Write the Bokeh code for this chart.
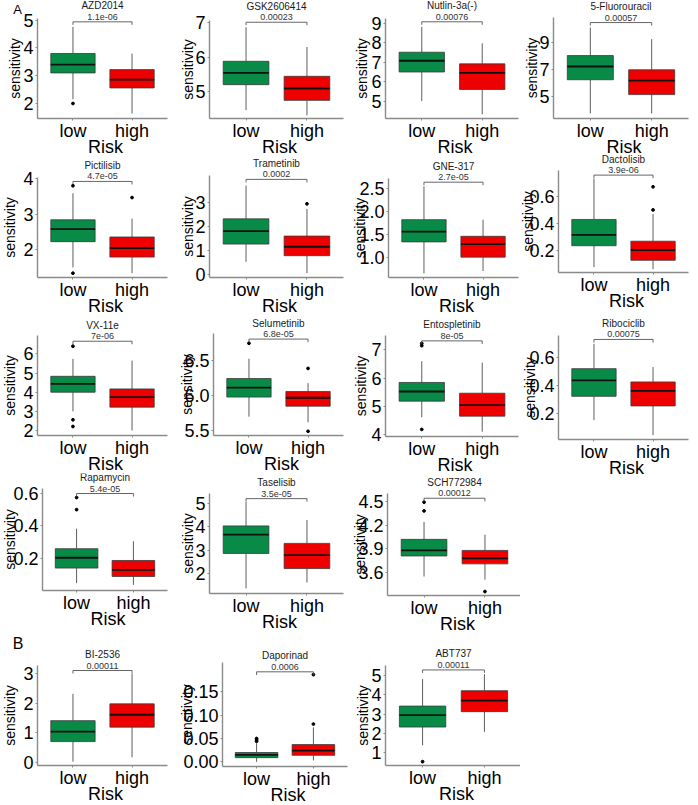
import math

from bokeh.layouts import row, column
from bokeh.models import Range1d, FixedTicker, Label
from bokeh.plotting import figure
from bokeh.embed import file_html
from bokeh.resources import INLINE

# ---------------- data ----------------
drugs = ["AZD2014", "GSK2606414", "Nutlin-3a(-)", "5-Fluorouracil",
         "Pictilisib", "Trametinib", "GNE-317", "Dactolisib",
         "VX-11e", "Selumetinib", "Entospletinib", "Ribociclib",
         "Rapamycin", "Taselisib", "SCH772984",
         "BI-2536", "Daporinad", "ABT737"]
p_values = ["1.1e-06", "0.00023", "0.00076", "0.00057",
            "4.7e-05", "0.0002", "2.7e-05", "3.9e-06",
            "7e-06", "6.8e-05", "8e-05", "0.00075",
            "5.4e-05", "3.5e-05", "0.00012",
            "0.00011", "0.0006", "0.00011"]
risk_groups = ["low", "high"]

# box statistics: (lower whisker, Q1, median, Q3, upper whisker)
low_box = [(2.15, 3.10, 3.40, 3.80, 4.76), (4.48, 5.21, 5.55, 5.88, 6.86),
           (5.00, 6.50, 7.08, 7.52, 8.83), (3.79, 6.26, 7.23, 8.03, 10.09),
           (1.51, 2.23, 2.58, 2.84, 3.58), (0.54, 1.27, 1.80, 2.31, 3.69),
           (0.66, 1.34, 1.56, 1.82, 2.54), (0.08, 0.237, 0.316, 0.43, 0.73),
           (3.00, 4.00, 4.43, 4.83, 5.74), (5.70, 5.98, 6.115, 6.245, 6.53),
           (4.62, 5.19, 5.53, 5.85, 6.60), (0.153, 0.322, 0.435, 0.518, 0.694),
           (0.045, 0.138, 0.202, 0.258, 0.382), (1.36, 2.86, 3.67, 4.04, 5.07),
           (3.55, 3.81, 3.88, 4.02, 4.24),
           (0.02, 0.70, 1.04, 1.41, 2.32), (0.0, 0.009, 0.015, 0.020, 0.040),
           (1.38, 2.33, 2.95, 3.42, 4.83)]
high_box = [(1.64, 2.56, 2.86, 3.22, 3.80), (4.33, 4.76, 5.10, 5.45, 6.29),
            (4.32, 5.60, 6.45, 6.92, 7.98), (3.79, 5.17, 6.19, 6.99, 9.24),
            (1.35, 1.80, 2.05, 2.36, 2.87), (0.07, 0.79, 1.16, 1.60, 2.72),
            (0.71, 1.01, 1.29, 1.46, 1.82), (0.064, 0.13, 0.205, 0.27, 0.47),
            (2.00, 3.22, 3.74, 4.17, 5.65), (5.62, 5.85, 5.97, 6.06, 6.18),
            (4.11, 4.66, 5.05, 5.47, 6.55), (0.047, 0.254, 0.36, 0.424, 0.53),
            (0.034, 0.086, 0.127, 0.185, 0.304), (1.61, 2.21, 2.79, 3.29, 4.29),
            (3.51, 3.71, 3.78, 3.88, 4.08),
            (0.17, 1.19, 1.61, 1.98, 3.00), (0.003, 0.014, 0.024, 0.037, 0.074),
            (2.08, 3.13, 3.70, 4.22, 5.08)]
low_outliers = [[2.0], [], [], [],
                [3.79, 1.35], [], [], [],
                [6.40, 2.56, 2.21], [6.75], [7.23, 7.15, 4.19], [],
                [0.575, 0.50], [], [4.49, 4.38],
                [], [0.044, 0.047, 0.050], [0.53]]
high_outliers = [[], [], [], [],
                 [3.46], [2.93], [], [0.67, 0.50],
                 [], [6.39, 5.49], [], [],
                 [], [], [3.36],
                 [], [0.187, 0.081], []]
bracket_y = [4.94, 7.0, 9.09, 10.45, 3.91, 3.94, 2.63, 0.756, 6.66, 6.81,
             7.32, 0.725, 0.6, 5.21, 4.54, 3.11, 0.193, 5.30]
# visible extent of each y axis
y_ranges = [(1.46, 5.06), (4.24, 7.05), (4.10, 9.26), (3.42, 10.82),
            (1.23, 4.02), (-0.11, 4.10), (0.57, 2.71), (0.04, 0.79),
            (1.74, 6.96), (5.43, 6.89), (3.94, 7.51), (0.016, 0.753),
            (-0.001, 0.631), (1.14, 5.43), (3.31, 4.60),
            (-0.11, 3.28), (-0.010, 0.213), (0.33, 5.53)]
y_ticks = [[2, 3, 4, 5], [5, 6, 7], [5, 6, 7, 8, 9], [5, 7, 9],
           [2, 3, 4], [0, 1, 2, 3], [1.0, 1.5, 2.0, 2.5], [0.2, 0.4, 0.6],
           [2, 3, 4, 5, 6], [5.5, 6.0, 6.5], [4, 5, 6, 7], [0.2, 0.4, 0.6],
           [0.2, 0.4, 0.6], [2, 3, 4, 5], [3.6, 3.9, 4.2, 4.5],
           [0, 1, 2, 3], [0.0, 0.05, 0.10, 0.15], [1, 2, 3, 4, 5]]
tick_decimals = [0, 0, 0, 0, 0, 0, 1, 1, 0, 1, 0, 1, 1, 0, 1, 0, 2, 0]
section_letters = {0: "A", 15: "B"}

# ---------------- layout / style ----------------
FONT = "Liberation Sans"
BOX_COLORS = ["#078B47", "#EE0000"]
AXIS_COLOR = "#8a8a8a"
X_LO, X_HI = 0.4, 2.6          # discrete axis limits around the two groups

# axis box of each panel on the page: left, right, top, bottom (px)
frames = [(37, 167, 18, 118), (209, 343, 20, 118), (385, 518, 18, 118), (553, 688, 17, 118),
          (37, 167, 177, 277), (209, 343, 175, 277), (388, 518, 178, 277), (558, 688, 170, 272),
          (37, 167, 335, 435), (213, 343, 333, 435), (385, 518, 335, 436), (558, 688, 335, 439),
          (42, 167, 488, 590), (209, 343, 493, 593), (387, 521, 493, 595),
          (37, 167, 665, 765), (222, 347, 662, 766), (385, 521, 665, 765)]
# horizontal centre of each "sensitivity" label (px)
ylabel_x = [14, 187.5, 361, 531, 9, 187.5, 359, 527.5, 9, 186, 360, 529,
            9, 187.5, 359, 9, 186.5, 362.5]
# section letter placement: panel -> (x px, y px, font size)
letter_pos = {0: (17, 8.7, "13px"), 15: (17.5, 642.5, "16px")}
col_cells = [(0, 174), (174, 348), (348, 520), (520, 698)]
col_panels = [[0, 4, 8, 12, 15], [1, 5, 9, 13, 16], [2, 6, 10, 14, 17], [3, 7, 11]]
BOTTOM_SPACE = 38
PAGE_H = 805
TITLE_OFFSET = 16
PVAL_OFFSET = 5
RISK_CENTER = 28               # px from the x axis down to the middle of "Risk"


def title_center(i):
    """Vertical page position of a panel's drug name."""
    L, R, T, B = frames[i]
    y0, y1 = y_ranges[i]
    return T + (y1 - bracket_y[i]) / (y1 - y0) * (B - T) - TITLE_OFFSET


def make_panel(i, cell_l, cell_r, cell_t, cell_b):
    L, R, T, B = frames[i]
    y0, y1 = y_ranges[i]
    # the plotting area covers the whole cell; axes sit at fixed data positions
    xu = (X_HI - X_LO) / (R - L)
    yu = (y1 - y0) / (B - T)
    xr = Range1d(X_LO - (L - cell_l) * xu, X_HI + (cell_r - R) * xu)
    yr = Range1d(y0 - (cell_b - B) * yu, y1 + (T - cell_t) * yu)
    p = figure(width=cell_r - cell_l, height=cell_b - cell_t, x_range=xr, y_range=yr,
               output_backend="svg", toolbar_location=None, min_border=0,
               min_border_left=0, min_border_right=0, min_border_top=0, min_border_bottom=0)
    p.outline_line_color = None
    p.grid.visible = False
    p.background_fill_color = "white"
    p.border_fill_color = "white"

    lo, hi = low_box[i], high_box[i]
    xs = [1, 2]
    # whiskers
    p.segment(x0=[1, 1, 2, 2], x1=[1, 1, 2, 2],
              y0=[lo[3], lo[1], hi[3], hi[1]], y1=[lo[4], lo[0], hi[4], hi[0]],
              line_color="#5e5e5e", line_width=1)
    # boxes
    p.vbar(x=xs, width=0.75, bottom=[lo[1], hi[1]], top=[lo[3], hi[3]],
           fill_color=BOX_COLORS, line_color="#3a3a3a", line_width=0.8)
    # medians
    p.segment(x0=[0.625, 1.625], x1=[1.375, 2.375], y0=[lo[2], hi[2]], y1=[lo[2], hi[2]],
              line_color="#111111", line_width=1.8)
    # outliers
    ox = [1] * len(low_outliers[i]) + [2] * len(high_outliers[i])
    oy = low_outliers[i] + high_outliers[i]
    if oy:
        p.scatter(x=ox, y=oy, size=2.8, color="black")

    # significance bracket with the test result and the drug name
    tip = 0.03 * (y1 - y0)
    by = bracket_y[i]
    p.segment(x0=[1, 1, 2], x1=[2, 1, 2], y0=[by, by, by], y1=[by, by - tip, by - tip],
              line_color="#555555", line_width=0.9)
    p.add_layout(Label(x=1.5, y=by, y_offset=PVAL_OFFSET, text=p_values[i],
                       text_align="center", text_baseline="middle", text_font=FONT,
                       text_font_size="9px", text_color="#333333"))
    p.add_layout(Label(x=1.5, y=by, y_offset=TITLE_OFFSET, text=drugs[i],
                       text_align="center", text_baseline="middle", text_font=FONT,
                       text_font_size="10px", text_color="#1a1a1a"))

    # axis titles
    p.add_layout(Label(x=1.5, y=y0, x_offset=3, y_offset=-RISK_CENTER, text="Risk",
                       text_align="center", text_baseline="middle", text_font=FONT,
                       text_font_size="18px", text_color="black"))
    p.add_layout(Label(x=X_LO, y=(y0 + y1) / 2, x_offset=ylabel_x[i] - L,
                       text="sensitivity", angle=math.pi / 2, text_align="center",
                       text_baseline="middle", text_font=FONT, text_font_size="14px",
                       text_color="black"))
    if i in section_letters:
        px, py, fs = letter_pos[i]
        p.add_layout(Label(x=X_LO, y=y1, x_offset=px - L, y_offset=T - py,
                           text=section_letters[i], text_align="center",
                           text_baseline="middle", text_font=FONT, text_font_size=fs,
                           text_color="black"))

    # x axis
    xa = p.xaxis[0]
    xa.fixed_location = y0
    xa.bounds = (X_LO, X_HI)
    xa.ticker = FixedTicker(ticks=xs)
    xa.major_label_overrides = {1: risk_groups[0], 2: risk_groups[1]}
    xa.major_tick_out = 2
    xa.major_label_standoff = 0
    # y axis
    ya = p.yaxis[0]
    labels = [f"{t:.{tick_decimals[i]}f}" for t in y_ticks[i]]
    ya.fixed_location = X_LO
    ya.bounds = (y0, y1)
    ya.ticker = FixedTicker(ticks=y_ticks[i])
    ya.major_label_overrides = {t: s for t, s in zip(y_ticks[i], labels)}
    ya.major_tick_out = 2
    ya.major_label_standoff = 2

    for ax in (xa, ya):
        ax.minor_tick_line_color = None
        ax.major_tick_in = 0
        ax.axis_line_color = AXIS_COLOR
        ax.axis_line_width = 1.4
        ax.major_tick_line_color = AXIS_COLOR
        ax.major_label_text_font = FONT
        ax.major_label_text_font_size = "18px"
        ax.major_label_text_color = "black"
    return p


columns = []
for c, panels in enumerate(col_panels):
    cl, cr = col_cells[c]
    figs = []
    top = 0
    for k, i in enumerate(panels):
        if k == len(panels) - 1:
            bottom = PAGE_H if len(panels) == 5 else frames[i][3] + BOTTOM_SPACE
        else:
            # leave room below for the axis texts but stop above the next drug name
            bottom = int(min(frames[i][3] + BOTTOM_SPACE, title_center(panels[k + 1]) - 4))
        figs.append(make_panel(i, cl, cr, top, bottom))
        top = bottom
    columns.append(column(figs, spacing=0))

layout = row(columns, spacing=0)

with open("out.html", "w") as f:
    f.write(file_html(layout, INLINE))
